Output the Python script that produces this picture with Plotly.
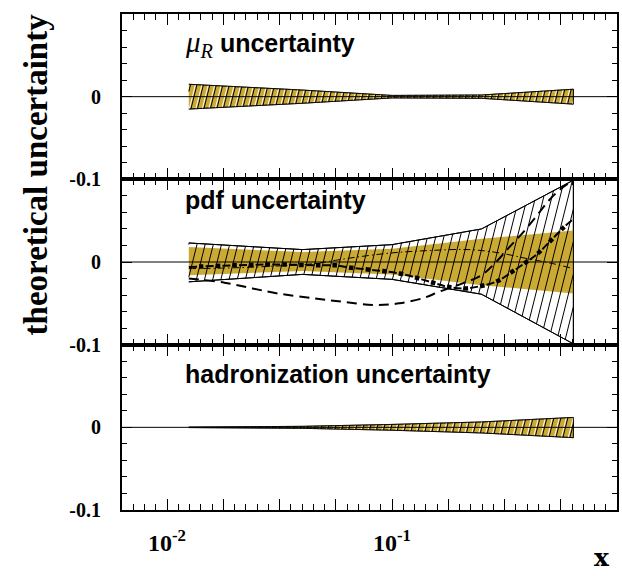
import numpy as np
import plotly.graph_objects as go

# ---------------- data ----------------
x_pts = [0.0125, 0.04, 0.1, 0.25, 0.64]

mu_up = [0.015, 0.008, 0.0015, 0.002, 0.009]
mu_lo = [-0.015, -0.008, -0.0015, -0.002, -0.009]

pdf_env_up = [0.023, 0.015, 0.021, 0.040, 0.099]
pdf_env_lo = [-0.024, -0.015, -0.021, -0.039, -0.099]
pdf_band_up = [0.018, 0.012, 0.016, 0.028, 0.038]
pdf_band_lo = [-0.016, -0.011, -0.015, -0.028, -0.038]

had_up = [0.0003, 0.0012, 0.0035, 0.0065, 0.012]
had_lo = [-0.0003, -0.0012, -0.0035, -0.0068, -0.0125]

pdfA_x = [0.0125, 0.018, 0.024, 0.031, 0.045, 0.06, 0.084, 0.108, 0.14, 0.162, 0.21, 0.25,
          0.29, 0.33, 0.38, 0.44, 0.5, 0.56, 0.64]
pdfA_y = [-0.020, -0.025, -0.032, -0.038, -0.044, -0.048, -0.052, -0.050, -0.043, -0.036,
          -0.025, -0.016, 0.000, 0.017, 0.035, 0.056, 0.075, 0.088, 0.099]

pdfB_x = [0.0125, 0.02, 0.03, 0.047, 0.056, 0.066, 0.078, 0.091, 0.108, 0.128, 0.152, 0.177,
          0.21, 0.249, 0.295, 0.337, 0.386, 0.443, 0.5, 0.58, 0.64]
pdfB_y = [-0.006, -0.004, -0.003, -0.004, -0.004, -0.007, -0.009, -0.011, -0.014, -0.019,
          -0.025, -0.030, -0.032, -0.029, -0.023, -0.013, -0.002, 0.010, 0.024, 0.042, 0.052]

pdfC_x = [0.0125, 0.02, 0.03, 0.045, 0.056, 0.07, 0.1, 0.15, 0.22, 0.3, 0.4, 0.5, 0.64]
pdfC_y = [-0.008, -0.007, -0.005, -0.002, 0.002, 0.006, 0.011, 0.014, 0.015, 0.011, 0.004,
          -0.001, -0.008]

panel_labels = ["<span style='font-family:Liberation Serif;font-size:29px'><i>μ</i><sub><i>R</i></sub></span> <b>uncertainty</b>",
                "<b>pdf uncertainty</b>",
                "<b>hadronization uncertainty</b>"]
y_title = "theoretical uncertainty"
x_title = "x"
y_tick_vals = [-0.1, 0, 0.1]
y_tick_text = ["-0.1", "0", ""]
x_label_vals = [0.01, 0.1]
x_label_exp = ["-2", "-1"]

# ---------------- geometry / style ----------------
W, H = 622, 576
ML, MR, MT, MB = 122, 3, 11, 66
PW, PH = W - ML - MR, H - MT - MB
XLOG = (-2.2, 0.0)
YR = (-0.1, 0.1)
DEC_PX = PW / (XLOG[1] - XLOG[0])
UNIT_PX = (PH / 3) / (YR[1] - YR[0])
YEL = "rgb(203,170,52)"
NB = "\u00a0"


def hatch(xs, lo, up, spacing_px, slope=0.25, phase_px=0.0):
    lx = np.log10(np.array(xs, float))
    lo = np.array(lo, float)
    up = np.array(up, float)
    k = slope * UNIT_PX / DEC_PX
    step = spacing_px / DEC_PX
    ys = np.linspace(YR[0], YR[1], 4001)
    offs = np.arange(lx[0] - k * YR[1] - step, lx[-1] - k * YR[0] + step, step)
    offs = offs + phase_px / DEC_PX
    X, Y = [], []
    for c in offs:
        L = c + k * ys
        m = (L >= lx[0]) & (L <= lx[-1])
        u = np.interp(L, lx, up)
        l = np.interp(L, lx, lo)
        m &= (ys >= l) & (ys <= u)
        idx = np.where(m)[0]
        if idx.size < 2:
            continue
        runs = np.split(idx, np.where(np.diff(idx) != 1)[0] + 1)
        for r in runs:
            if r.size < 2:
                continue
            X += [10 ** L[r[0]], 10 ** L[r[-1]], None]
            Y += [ys[r[0]], ys[r[-1]], None]
    return X, Y


fig = go.Figure()


def poly(xs, lo, up):
    return list(xs) + list(xs)[::-1], list(up) + list(lo)[::-1]


def add_band(xa, ya, xs, lo, up, spacing):
    px, py = poly(xs, lo, up)
    fig.add_trace(go.Scatter(x=px, y=py, fill="toself", fillcolor=YEL, mode="lines",
                             line=dict(color="black", width=0.8), xaxis=xa, yaxis=ya,
                             hoverinfo="skip", showlegend=False))
    wx, wy = hatch(xs, lo, up, spacing, phase_px=-1.6)
    fig.add_trace(go.Scatter(x=wx, y=wy, mode="lines", line=dict(color="white", width=1.0),
                             xaxis=xa, yaxis=ya, hoverinfo="skip", showlegend=False))
    hx, hy = hatch(xs, lo, up, spacing)
    fig.add_trace(go.Scatter(x=hx, y=hy, mode="lines", line=dict(color="black", width=1),
                             xaxis=xa, yaxis=ya, hoverinfo="skip", showlegend=False))
    fig.add_trace(go.Scatter(x=px, y=py, mode="lines", line=dict(color="black", width=0.8),
                             xaxis=xa, yaxis=ya, hoverinfo="skip", showlegend=False))


# panel 1: mu_R
add_band("x", "y", x_pts, mu_lo, mu_up, 6.5)

# panel 2: pdf
ex, ey = poly(x_pts, pdf_env_lo, pdf_env_up)
fig.add_trace(go.Scatter(x=ex, y=ey, fill="toself", fillcolor="white", mode="lines",
                         line=dict(color="black", width=1), xaxis="x2", yaxis="y2",
                         hoverinfo="skip", showlegend=False))
bx, by = poly(x_pts, pdf_band_lo, pdf_band_up)
fig.add_trace(go.Scatter(x=bx, y=by, fill="toself", fillcolor=YEL, mode="lines",
                         line=dict(width=0), xaxis="x2", yaxis="y2",
                         hoverinfo="skip", showlegend=False))
hx, hy = hatch(x_pts, pdf_env_lo, pdf_env_up, 8.2)
fig.add_trace(go.Scatter(x=hx, y=hy, mode="lines", line=dict(color="black", width=1),
                         xaxis="x2", yaxis="y2", hoverinfo="skip", showlegend=False))
fig.add_trace(go.Scatter(x=ex, y=ey, mode="lines", line=dict(color="black", width=1),
                         xaxis="x2", yaxis="y2", hoverinfo="skip", showlegend=False))
fig.add_trace(go.Scatter(x=pdfC_x, y=pdfC_y, mode="lines", line_shape="spline",
                         line=dict(color="black", width=1, dash="7px,3px,1.5px,3px"),
                         xaxis="x2", yaxis="y2", showlegend=False))
fig.add_trace(go.Scatter(x=pdfA_x, y=pdfA_y, mode="lines", line_shape="spline",
                         line=dict(color="black", width=2, dash="10px,6px"),
                         xaxis="x2", yaxis="y2", showlegend=False))
fig.add_trace(go.Scatter(x=pdfB_x, y=pdfB_y, mode="lines", line_shape="spline",
                         line=dict(color="black", width=2, dash="8px,8.7px"),
                         xaxis="x2", yaxis="y2", showlegend=False))
fig.add_trace(go.Scatter(x=pdfB_x, y=pdfB_y, mode="lines", line_shape="spline",
                         line=dict(color="black", width=4.5, dash="0px,10.1px,4.5px,2.1px"),
                         xaxis="x2", yaxis="y2", showlegend=False))

# panel 3: hadronization
add_band("x3", "y3", x_pts, had_lo, had_up, 7.0)

# ---------------- axes ----------------
maj = [10 ** (-2.0 + 0.25 * i) for i in range(9)]

domains = [[2 / 3, 1.0], [1 / 3, 2 / 3], [0.0, 1 / 3]]
names = ["", "2", "3"]
for i, n in enumerate(names):
    fig.layout["xaxis" + n] = dict(
        type="log", range=list(XLOG), domain=[0, 1], anchor="y" + n,
        showline=True, linewidth=2, linecolor="black", mirror="ticks",
        ticks="inside", ticklen=11, tickwidth=1, tickcolor="black",
        tickmode="array", tickvals=maj,
        showticklabels=False, showgrid=False, zeroline=False,
        minor=dict(tick0=-2.2, dtick=0.05, ticks="inside", ticklen=6,
                   tickwidth=1, tickcolor="black", showgrid=False),
    )
    fig.layout["yaxis" + n] = dict(
        range=list(YR), domain=domains[i], anchor="x" + n,
        showline=True, linewidth=2, linecolor="black", mirror="ticks",
        ticks="inside", ticklen=10, tickwidth=1, tickcolor="black",
        tickmode="array", tickvals=y_tick_vals,
        ticktext=[t + NB * 3 for t in y_tick_text],
        showgrid=False, zeroline=False,
        minor=dict(tick0=0, dtick=0.02, ticks="inside", ticklen=5, tickwidth=1,
                   tickcolor="black", showgrid=False),
        tickfont=dict(family="Liberation Serif", size=20, color="black", weight="bold"),
    )
    fig.add_shape(type="line", xref="x" + n + " domain", yref="y" + n,
                  x0=0, x1=1, y0=0, y1=0, line=dict(color="black", width=1), layer="above")


def px2paper(px, py):
    return (px - ML) / PW, (H - MB - py) / PH


# x tick labels at the decade values of the bottom axis
_, lab_y = px2paper(0, 541)
for v, e in zip(x_label_vals, x_label_exp):
    fig.add_annotation(text="<b>10<sup>" + e + "</sup></b>", x=np.log10(v), xref="x3",
                       y=lab_y, yref="paper", showarrow=False, xanchor="center",
                       yanchor="middle",
                       font=dict(family="Liberation Serif", size=24, color="black"))

ann_pos = [(183, 41), (183, 198), (183, 373)]
for (px, py), t in zip(ann_pos, panel_labels):
    ax, ay = px2paper(px, py)
    fig.add_annotation(text=t, xref="paper", yref="paper", x=ax, y=ay, xanchor="left",
                       yanchor="middle", showarrow=False,
                       font=dict(family="Liberation Sans", size=25, color="black"))

tx, ty = px2paper(36, 172)
fig.add_annotation(text="<b>" + y_title + "</b>", xref="paper", yref="paper", x=tx, y=ty,
                   textangle=-90, showarrow=False, xanchor="center", yanchor="middle",
                   font=dict(family="Liberation Serif", size=33, color="black"))
lx_, ly_ = px2paper(604, 558)
fig.add_annotation(text="<b>" + x_title + "</b>", xref="paper", yref="paper", x=lx_, y=ly_,
                   showarrow=False, xanchor="center", yanchor="middle",
                   font=dict(family="DejaVu Serif", size=25, color="black"))

fig.update_layout(width=W, height=H, margin=dict(l=ML, r=MR, t=MT, b=MB),
                  paper_bgcolor="white", plot_bgcolor="white", showlegend=False)
fig.write_html("out.html")
